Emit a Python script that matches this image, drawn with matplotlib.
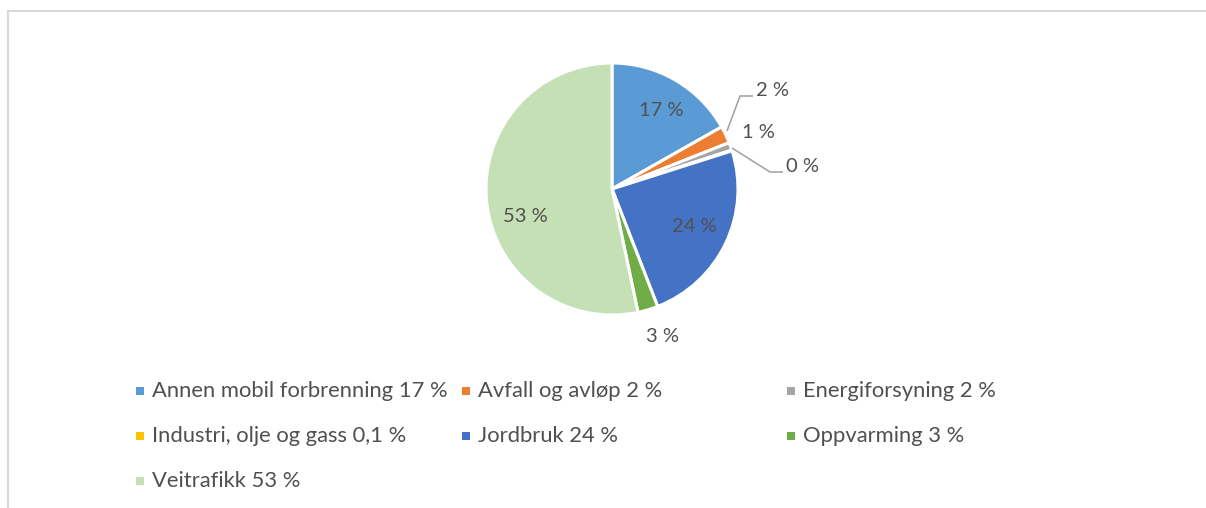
import matplotlib
matplotlib.use("Agg")
import matplotlib.pyplot as plt
from matplotlib.patches import Rectangle
from matplotlib.lines import Line2D
import numpy as np

categories = ["Annen mobil forbrenning", "Avfall og avløp", "Energiforsyning",
              "Industri, olje og gass", "Jordbruk", "Oppvarming", "Veitrafikk"]
values = [16.8, 2.2, 1.0, 0.1, 24.0, 2.6, 53.3]
slice_labels = ["17 %", "2 %", "1 %", "0 %", "24 %", "3 %", "53 %"]
legend_labels = ["Annen mobil forbrenning 17 %", "Avfall og avløp 2 %", "Energiforsyning 2 %",
                 "Industri, olje og gass 0,1 %", "Jordbruk 24 %", "Oppvarming 3 %",
                 "Veitrafikk 53 %"]
colors = ["#5B9BD5", "#ED7D31", "#A5A5A5", "#FFC000", "#4472C4", "#70AD47", "#C5E0B4"]

W, H = 1206, 508
fig = plt.figure(figsize=(W / 100, H / 100), dpi=100)
plt.rcParams['font.family'] = ['Lato', 'DejaVu Sans']
TXT = "#505050"

# chart frame
fig.add_artist(Line2D([7.5 / W, 7.5 / W], [0, 1 - 10.5 / H], transform=fig.transFigure,
                      color="#D9D9D9", lw=1.5))
fig.add_artist(Line2D([7.5 / W, 1], [1 - 10.5 / H, 1 - 10.5 / H], transform=fig.transFigure,
                      color="#D9D9D9", lw=1.5))

cx, cy, R = 612, 189, 126
side = 400
ax = fig.add_axes([(cx - side / 2) / W, (H - cy - side / 2) / H, side / W, side / H])

wedges, _ = ax.pie(values, colors=colors, startangle=90, counterclock=False, radius=1,
                   wedgeprops=dict(edgecolor="white", linewidth=2.2))
lim = side / 2 / R
ax.set_xlim(-lim, lim)
ax.set_ylim(-lim, lim)
ax.set_aspect("equal")
ax.axis("off")

def px(p):
    return ((p[0] - cx) / R, (cy - p[1]) / R)

# label positions (pixel coords), and optional leader lines
label_pos = [(661, 111), (772, 91), (758, 132), (802, 166), (694, 226), (662, 336), (525, 216)]
leaders = {1: [(727, 131), (740, 96), (753, 96)],
           3: [(732, 148), (770, 172), (783, 172)]}
for i, lab in enumerate(slice_labels):
    x, y = px(label_pos[i])
    ax.text(x, y, lab, ha="center", va="center", fontsize=14.5, color=TXT)
for i, pts in leaders.items():
    xs, ys = zip(*[px(p) for p in pts])
    ax.plot(xs, ys, color="#A6A6A6", lw=1.2, solid_capstyle="butt")

# legend
col_x = [136, 462, 787]
row_y = [391, 436, 481]
for i, (lab, c) in enumerate(zip(legend_labels, colors)):
    r, col = divmod(i, 3)
    mx, my = col_x[col], row_y[r]
    fig.add_artist(Rectangle((mx / W, (H - my - 4) / H), 8 / W, 8 / H,
                             transform=fig.transFigure, facecolor=c, edgecolor="none"))
    fig.text((mx + 16) / W, (H - my) / H, lab, ha="left", va="center",
             fontsize=15.8, color=TXT)

fig.savefig("out.png", dpi=100)
